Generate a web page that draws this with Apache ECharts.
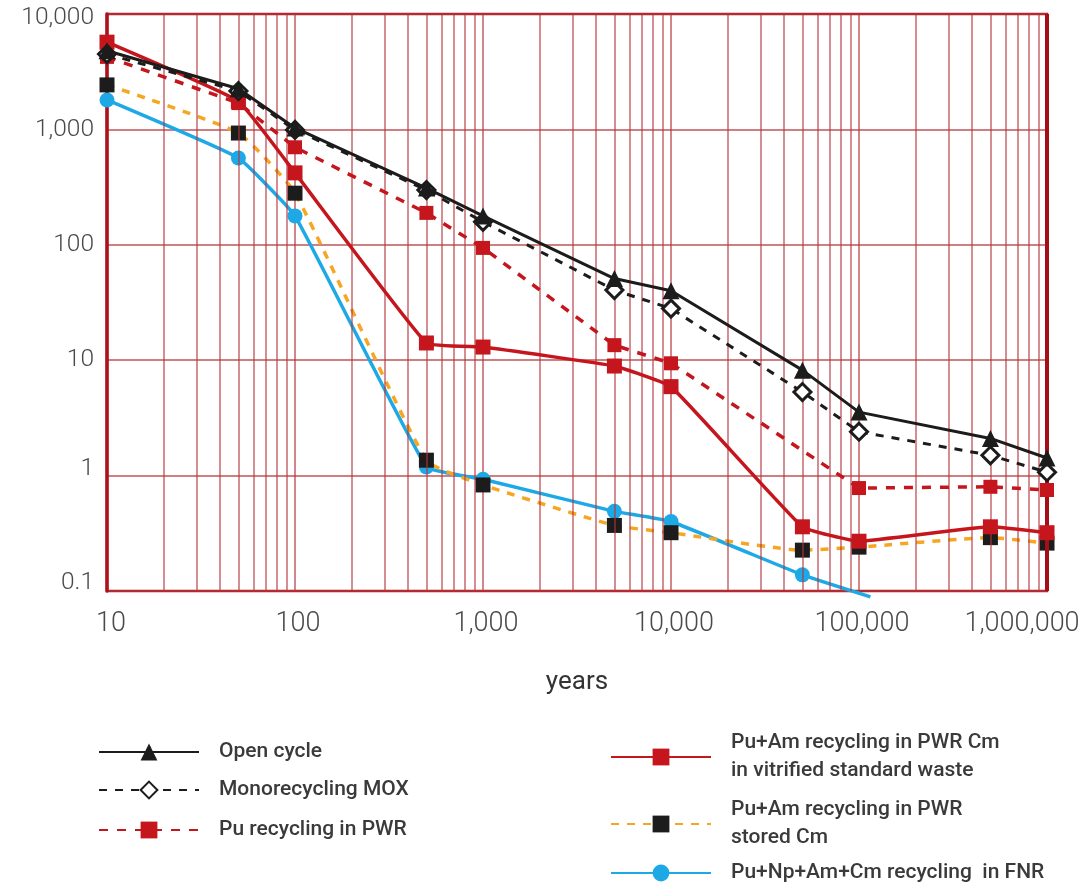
<!DOCTYPE html>
<html>
<head>
<meta charset="utf-8">
<script src="https://cdn.jsdelivr.net/npm/echarts@6/dist/echarts.min.js"></script>
<style>
  html, body { margin: 0; padding: 0; background: #ffffff; }
  #chart { width: 1087px; height: 882px; }
</style>
</head>
<body>
<div id="chart"></div>
<script>
// Time after unloading (years) at which each fuel cycle is evaluated
const years = [10, 50, 100, 500, 1000, 5000, 10000, 50000, 100000, 500000, 1000000];

// Relative radiotoxicity for each fuel-cycle option
const openCycle     = [4800, 2250, 1030, 310, 178, 51, 40, 8.2, 3.55, 2.1, 1.42];
const monoMox       = [4500, 2150, 990, 298, 158, 40.5, 28, 5.3, 2.4, 1.5, 1.07];
const puPwr         = [4250, 1690, 700, 189, 94, 13.5, 9.4, null, 0.78, 0.8, 0.75];
const puAmVitrified = [5700, 1750, 420, 14.1, 13, 8.9, 5.9, 0.36, 0.27, 0.36, 0.32];
const puAmStored    = [2430, 930, 280, 1.36, 0.83, 0.37, 0.32, 0.226, 0.24, 0.29, 0.26];

// The fast-reactor curve stops just past 100,000 years
const fnrYears = [10, 50, 100, 500, 1000, 5000, 10000, 50000, 115000];
const fnr      = [1800, 565, 178, 1.19, 0.93, 0.49, 0.4, 0.138, 0.089];

// Axis tick labels
const xTickLabels = { 10: '10', 100: '100', 1000: '1,000', 10000: '10,000', 100000: '100,000', 1000000: '1,000,000' };
const yTickLabels = { 0.1: '0.1', 1: '1', 10: '10', 100: '100', 1000: '1,000', 10000: '10,000' };

// Decades and in-decade multipliers for the vertical log grid
const decades = [10, 100, 1000, 10000, 100000];
const multipliers = [2, 3, 4, 5, 6, 7, 8, 9];

const names = {
  open: 'Open cycle',
  mox: 'Monorecycling MOX',
  pu: 'Pu recycling in PWR',
  vit: 'Pu+Am recycling in PWR Cm in vitrified standard waste',
  stored: 'Pu+Am recycling in PWR stored Cm',
  fnr: 'Pu+Np+Am+Cm recycling  in FNR'
};
const legendText = {};
legendText[names.vit] = 'Pu+Am recycling in PWR Cm\nin vitrified standard waste';
legendText[names.stored] = 'Pu+Am recycling in PWR\nstored Cm';

const pairs = (xs, ys) => xs.map((x, i) => [x, ys[i]]);

const minorLines = [];
decades.forEach(d => multipliers.forEach(m => minorLines.push({ xAxis: d * m })));

const RED = '#c5161e';
const BLACK = '#1c1c1c';
const ORANGE = '#f6a623';
const BLUE = '#1ea9e6';
const GRID = '#b3343b';
const FONT = 'Roboto, "Noto Sans", sans-serif';
const X_TEXT = { fontFamily: FONT, fontSize: 27, fontWeight: 300, color: '#4a4a4a' };
const Y_TEXT = { fontFamily: FONT, fontSize: 24.5, fontWeight: 300, color: '#4a4a4a' };

const legendBase = {
  orient: 'vertical',
  padding: 0,
  itemWidth: 100,
  itemHeight: 21,
  selectedMode: false,
  formatter: n => legendText[n] || n,
  textStyle: { fontFamily: FONT, fontSize: 21, fontWeight: 500, color: '#3a3a3a', lineHeight: 28, padding: [0, 0, 0, 15] }
};

const chart = echarts.init(document.getElementById('chart'), null, { renderer: 'canvas' });

chart.setOption({
  animation: false,
  backgroundColor: '#ffffff',
  grid: {
    left: 107, top: 14, right: 40, bottom: 291,
    show: true, borderColor: '#b01c24', borderWidth: 2.5, backgroundColor: 'transparent'
  },
  xAxis: {
    type: 'log', logBase: 10, min: 10, max: 1000000, splitNumber: 5,
    name: 'years', nameLocation: 'middle', nameGap: 78,
    nameTextStyle: { fontFamily: FONT, fontSize: 26, color: '#333' },
    axisLine: { show: false },
    axisTick: { show: false },
    axisLabel: Object.assign({}, X_TEXT, {
      margin: 20,
      formatter: v => {
        const t = xTickLabels[Math.round(v)] || '';
        if (Math.round(v) === 1000000) return '{last|' + t + '}';
        if (Math.round(v) === 10) return '{first|' + t + '}';
        return '{mid|' + t + '}';
      },
      rich: {
        last: Object.assign({}, X_TEXT, { padding: [0, 50, 0, 0] }),
        first: Object.assign({}, X_TEXT, { padding: [0, 0, 0, 8] }),
        mid: Object.assign({}, X_TEXT, { padding: [0, 0, 0, 6] })
      }
    }),
    splitLine: { show: true, lineStyle: { color: GRID, width: 1.6, opacity: 0.75 } }
  },
  yAxis: {
    type: 'log', logBase: 10, min: 0.1, max: 10000, splitNumber: 5,
    axisLine: { show: true, lineStyle: { color: '#ad1119', width: 3.5 } },
    axisTick: { show: false },
    axisLabel: Object.assign({}, Y_TEXT, {
      margin: 13,
      formatter: v => {
        const key = +v.toPrecision(3);
        const t = yTickLabels[key] || '';
        if (key === 10000) return '{top|' + t + '}';
        if (key === 1) return '{one|' + t + '}';
        if (key === 0.1) return '{low|' + t + '}';
        return t;
      },
      rich: {
        top: Object.assign({}, Y_TEXT, { padding: [8, 0, 0, 0] }),
        one: Object.assign({}, Y_TEXT, { padding: [0, 0, 14, 0] }),
        low: Object.assign({}, Y_TEXT, { padding: [0, 0, 16, 0] })
      }
    }),
    splitLine: { show: true, lineStyle: { color: GRID, width: 1.6, opacity: 0.85 } }
  },
  legend: [
    Object.assign({}, legendBase, { left: 98, top: 738, data: [names.open] }),
    Object.assign({}, legendBase, { left: 98, top: 776, data: [names.mox] }),
    Object.assign({}, legendBase, { left: 98, top: 816, data: [names.pu] }),
    Object.assign({}, legendBase, { left: 610, top: 729, data: [names.vit] }),
    Object.assign({}, legendBase, { left: 610, top: 796, data: [names.stored] }),
    Object.assign({}, legendBase, { left: 610, top: 859, data: [names.fnr] })
  ],
  series: [
    {
      // in-decade vertical grid lines and the right-hand frame
      type: 'line', name: 'grid', data: [], silent: true, z: 1,
      markLine: {
        silent: true, symbol: 'none', label: { show: false }, animation: false,
        lineStyle: { color: GRID, width: 1.6, type: 'solid', opacity: 0.7 },
        data: minorLines.concat([{ xAxis: 1000000, lineStyle: { color: '#a50e16', width: 4, opacity: 1 } }])
      }
    },
    {
      name: names.fnr, type: 'line', z: 3,
      data: pairs(fnrYears, fnr).map((p, i) => i === fnrYears.length - 1 ? { value: p, symbol: 'none' } : p),
      clip: false, smooth: 0.1,
      symbol: 'circle', symbolSize: 15,
      itemStyle: { color: BLUE },
      lineStyle: { color: BLUE, width: 3.5 }
    },
    {
      name: names.stored, type: 'line', z: 4,
      data: pairs(years, puAmStored), smooth: 0.15,
      symbol: 'rect', symbolSize: 15,
      itemStyle: { color: BLACK },
      lineStyle: { color: ORANGE, width: 3.5, type: [8, 8] }
    },
    {
      name: names.vit, type: 'line', z: 5,
      data: pairs(years, puAmVitrified), smooth: 0.1,
      symbol: 'rect', symbolSize: 15,
      itemStyle: { color: RED },
      lineStyle: { color: RED, width: 3.5 }
    },
    {
      name: names.pu, type: 'line', z: 6,
      data: pairs(years, puPwr), connectNulls: true,
      symbol: 'rect', symbolSize: 14,
      itemStyle: { color: RED },
      lineStyle: { color: RED, width: 3.5, type: [9, 9] }
    },
    {
      name: names.mox, type: 'line', z: 7,
      data: pairs(years, monoMox),
      symbol: 'diamond', symbolSize: 17,
      itemStyle: { color: '#ffffff', borderColor: BLACK, borderWidth: 3 },
      lineStyle: { color: BLACK, width: 3, type: [8, 8] }
    },
    {
      name: names.open, type: 'line', z: 8,
      data: pairs(years, openCycle),
      symbol: 'triangle', symbolSize: 17,
      itemStyle: { color: BLACK },
      lineStyle: { color: BLACK, width: 3 }
    }
  ]
});
</script>
</body>
</html>
